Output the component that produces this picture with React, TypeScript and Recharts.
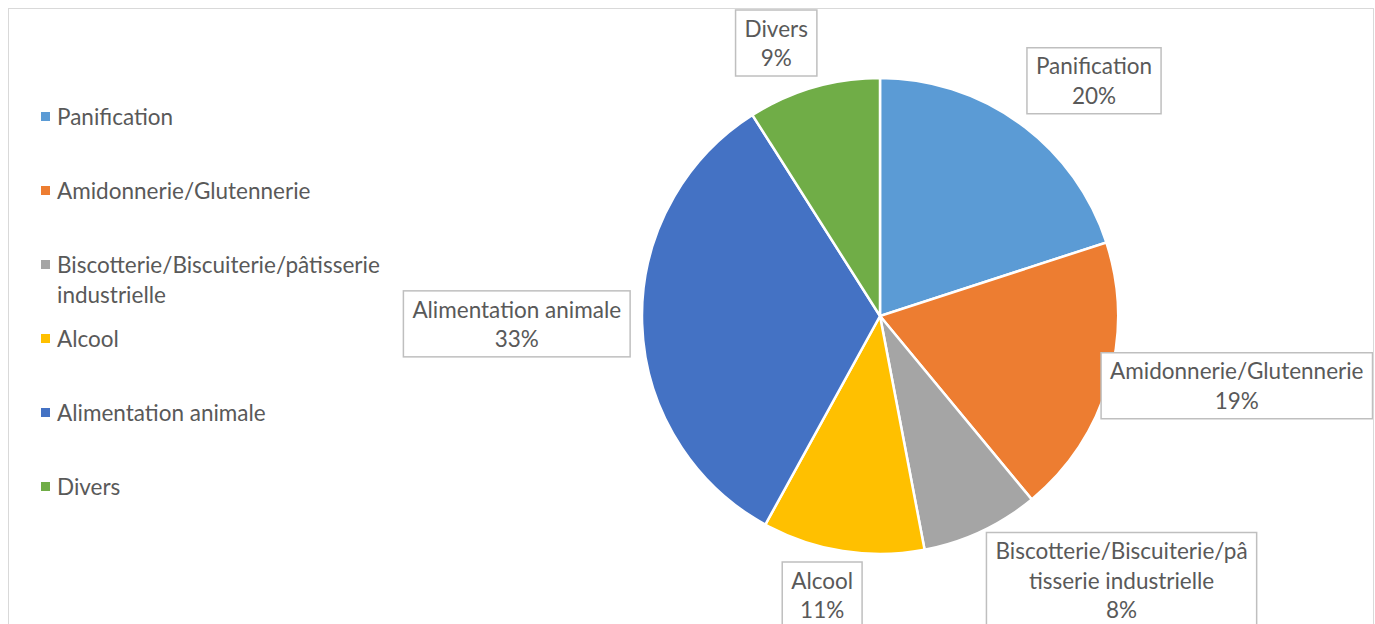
import React from 'react';
import { PieChart, Pie, Cell, Legend } from 'recharts';

const categories = [
  'Panification',
  'Amidonnerie/Glutennerie',
  'Biscotterie/Biscuiterie/pâtisserie industrielle',
  'Alcool',
  'Alimentation animale',
  'Divers',
];
const shares = [20, 19, 8, 11, 33, 9];
// how the data labels wrap their category name
const labelLines = [
  ['Panification'],
  ['Amidonnerie/Glutennerie'],
  ['Biscotterie/Biscuiterie/pâ', 'tisserie industrielle'],
  ['Alcool'],
  ['Alimentation animale'],
  ['Divers'],
];
const colors = ['#5B9BD5', '#ED7D31', '#A5A5A5', '#FFC000', '#4472C4', '#70AD47'];

const data = categories.map((name, i) => ({ name, value: shares[i] }));

const W = 1364;
const H = 620;
const FONT = 'Lato, "DejaVu Sans", sans-serif';
const FS = 22.5;
const LINE = 29.5;
const TEXT = '#595959';

let ctx: CanvasRenderingContext2D | null = null;
function textWidth(s: string) {
  if (!ctx) ctx = document.createElement('canvas').getContext('2d');
  if (!ctx) return s.length * FS * 0.5;
  ctx.font = `${FS}px ${FONT}`;
  return ctx.measureText(s).width;
}

const clamp = (v: number, a: number, b: number) => Math.max(a, Math.min(b, v));

function renderLabel(props: any) {
  const { cx, cy, midAngle, outerRadius, percent, index } = props;
  const lines = [...labelLines[index], `${Math.round(percent * 100)}%`];
  const w = Math.max(...lines.map(textWidth)) + 18;
  const h = lines.length * LINE + 7;
  const rad = (-midAngle * Math.PI) / 180;
  const dx = Math.cos(rad);
  const dy = Math.sin(rad);
  const r = outerRadius + 12;
  const px = cx + r * dx;
  const py = cy + r * dy;
  const fx = clamp(dx * 3, -1, 1);
  const fy = Math.sign(dy) * clamp((Math.abs(dy) - 0.3) * 3, 0, 1);
  let x = px + (w / 2) * fx - w / 2;
  let y = py + (h / 2) * fy - h / 2;
  x = clamp(x, 1, W - w - 0.5);
  y = clamp(y, 1, H - h - 1);
  return (
    <g key={`lbl-${index}`}>
      <rect x={x} y={y} width={w} height={h} fill="#fff" stroke="#BFBFBF" strokeWidth={1.5} />
      {lines.map((t, i) => (
        <text
          key={i}
          x={x + w / 2}
          y={y + 3.5 + LINE * i + LINE / 2}
          textAnchor="middle"
          dominantBaseline="central"
          fill={TEXT}
          fontSize={FS}
          fontFamily={FONT}
        >
          {t}
        </text>
      ))}
    </g>
  );
}

function renderLegend() {
  return (
    <div style={{ fontFamily: FONT, fontSize: FS, color: TEXT }}>
      {categories.map((name, i) => (
        <div key={name} style={{ height: 74, display: 'flex', alignItems: 'flex-start' }}>
          <span
            style={{
              width: 9,
              height: 9,
              background: colors[i],
              marginTop: (LINE - 9) / 2,
              marginRight: 7,
              flex: 'none',
            }}
          />
          <span style={{ width: 330, lineHeight: `${LINE}px` }}>{name}</span>
        </div>
      ))}
    </div>
  );
}

export default function App() {
  return (
    <div
      style={{
        position: 'fixed',
        top: 8,
        left: 8,
        width: W,
        height: H,
        border: '1px solid #D9D9D9',
        background: '#fff',
      }}
    >
      <PieChart width={W} height={H} margin={{ top: 0, right: 0, bottom: 0, left: 0 }}>
        <Pie
          data={data}
          dataKey="value"
          nameKey="name"
          cx={871}
          cy={307}
          outerRadius={238}
          startAngle={90}
          endAngle={-270}
          stroke="#fff"
          strokeWidth={2.5}
          label={renderLabel}
          labelLine={false}
          isAnimationActive={false}
        >
          {data.map((d, i) => (
            <Cell key={d.name} fill={colors[i]} />
          ))}
        </Pie>
        <Legend
          layout="vertical"
          align="center"
          verticalAlign="middle"
          content={renderLegend}
          wrapperStyle={{ left: 32, top: 93, width: 380 }}
        />
      </PieChart>
    </div>
  );
}
